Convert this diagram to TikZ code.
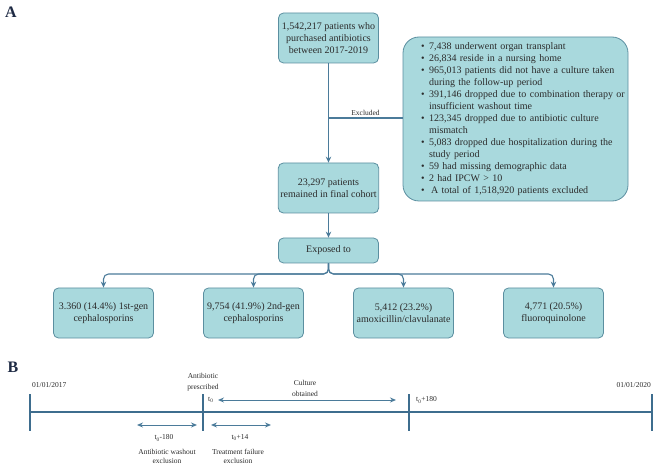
\documentclass[tikz,border=0pt]{standalone}
\usepackage{fontspec}
\setmainfont{Liberation Serif}
\usetikzlibrary{arrows.meta,calc}
\definecolor{boxfill}{HTML}{A9D9DD}
\definecolor{boxline}{HTML}{5B8FA0}
\definecolor{arrline}{HTML}{4B7B9A}
\definecolor{tline}{HTML}{3E6D8E}
\definecolor{txt}{HTML}{2B2B2B}
\definecolor{tagcol}{HTML}{1E2A44}
\def\drugbox(#1,#2,#3){
  \node[fbox] (#1) at (#2,313) {#3};
  \draw[arr, rounded corners=5pt] (exposed.south) -- (split) -| (#1.north);
}
\def\tlmark(#1,#2){
  \coordinate (#1) at (#2,412);
  \draw[tl] ($(#1)+(0,-18)$) -- ($(#1)+(0,19)$);
}

\begin{document}
\begin{tikzpicture}[x=1pt,y=-1pt,
  fbox/.style={draw=boxline, fill=boxfill, rounded corners=5pt, line width=0.8pt,
    minimum width=100pt, minimum height=50pt, align=center, inner sep=2pt,
    text=txt, font=\fontsize{10}{12}\selectfont},
  arr/.style={draw=arrline, line width=1.1pt, -{Stealth[length=6pt,width=5.5pt]}},
  darr/.style={draw=arrline, line width=1pt,
    {Stealth[length=6pt,width=5pt]}-{Stealth[length=6pt,width=5pt]}},
  tl/.style={draw=tline, line width=2pt},
  lbl/.style={text=txt, font=\fontsize{7.5}{11}\selectfont, align=center, inner sep=0pt},
  tag/.style={text=tagcol, font=\bfseries\fontsize{16}{16}\selectfont, inner sep=0pt}]
\useasboundingbox (0,0) rectangle (657,468);

% part A: flow of the cohort
\node[tag] (tagA) at (11,12) {A};
\node[fbox] (start) at (328.5,38) {1,542,217 patients who\\purchased antibiotics\\between 2017-2019};
\node[fbox, minimum width=225pt, minimum height=164pt, rounded corners=16pt,
  text width=189pt, inner xsep=18pt, align=left] (excl) at (515.5,119) {%
  \setlength{\tabcolsep}{0pt}%
  \begin{tabular}{@{}l@{\hspace{4.5pt}}l@{}}
  \textbullet & 7,438 underwent organ transplant\\
  \textbullet & 26,834 reside in a nursing home\\
  \textbullet & 965,013 patients did not have a culture taken\\
              & during the follow-up period\\
  \textbullet & 391,146 dropped due to combination therapy or\\
              & insufficient washout time\\
  \textbullet & 123,345 dropped due to antibiotic culture\\
              & mismatch\\
  \textbullet & 5,083 dropped due hospitalization during the\\
              & study period\\
  \textbullet & 59 had missing demographic data\\
  \textbullet & 2 had IPCW > 10\\
  \textbullet & \hspace{2pt}A total of 1,518,920 patients excluded
  \end{tabular}};
\node[fbox] (cohort) at (328.5,188) {23,297 patients\\remained in final cohort};
\node[fbox, minimum height=25pt] (exposed) at (328.5,250.5) {Exposed to};
\draw[arr] (start.south) -- (cohort.north);
\coordinate (exc) at (328.5,118);
\draw[draw=arrline, line width=1.1pt] (exc) -- node[lbl, above=2pt] {Excluded} (exc -| excl.west);
\draw[arr] (cohort.south) -- (exposed.north);
\coordinate (split) at (328.5,274);
\drugbox(first,103.5,{3.360 (14.4\%) 1st-gen\\cephalosporins})
\drugbox(second,253.5,{9,754 (41.9\%) 2nd-gen\\cephalosporins})
\drugbox(amox,403.5,{5,412 (23.2\%)\\amoxicillin/clavulanate})
\drugbox(fluoro,553.5,{4,771 (20.5\%)\\fluoroquinolone})

% part B: timeline
\node[tag] (tagB) at (13,367) {B};
\tlmark(start17,30)
\tlmark(tzero,203)
\tlmark(tend,409)
\tlmark(end20,652)
\draw[tl] (start17) -- (end20);
\node[lbl, anchor=west] (d2017) at (32,385) {01/01/2017};
\node[lbl, anchor=east] (d2020) at (651,385) {01/01/2020};
\node[lbl] (presc) at (203,382.5) {Antibiotic\\prescribed};
\node[lbl] (cult) at (305,388.5) {Culture\\obtained};
\node[lbl, anchor=west] (tz) at (208,400) {t\textsubscript{0}};
\node[lbl, anchor=west] (tze) at (416,400) {t\textsubscript{0}+180};
\coordinate (cA) at (218,400);
\coordinate (cB) at (396,400);
\draw[darr] (cA) -- (cB);
\coordinate (wA) at (137,425);
\coordinate (wB) at (197,425);
\draw[darr] (wA) -- (wB);
\coordinate (fA) at (211,425);
\coordinate (fB) at (271,425);
\draw[darr] (fA) -- (fB);
\node[lbl] (wlab) at (164,438) {t\textsubscript{0}-180};
\node[lbl] (flab) at (240,438) {t\textsubscript{0}+14};
\node[lbl, font=\fontsize{7.5}{9}\selectfont] (wtxt) at (167,456.5) {Antibiotic washout\\exclusion};
\node[lbl, font=\fontsize{7.5}{9}\selectfont] (ftxt) at (238,456.5) {Treatment failure\\exclusion};
\end{tikzpicture}
\end{document}
